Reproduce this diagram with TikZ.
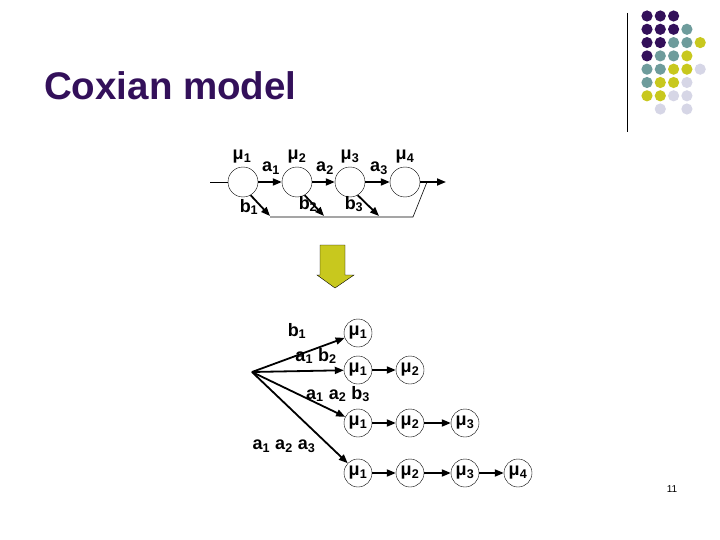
\documentclass[tikz,border=0pt]{standalone}
\usepackage{fontspec}
\setmainfont{Liberation Sans}
\usetikzlibrary{arrows.meta}
\definecolor{pp}{HTML}{33105A}
\definecolor{tl}{HTML}{6E9C9C}
\definecolor{yl}{HTML}{C8C81E}
\definecolor{lv}{HTML}{D6D6E6}
\begin{document}
\begin{tikzpicture}[x=1pt,y=-1pt,
 st/.style={circle,draw,minimum size=30pt,inner sep=0pt},
 sb/.style={circle,draw,minimum size=28pt,inner sep=0pt,font=\bfseries\fontsize{18}{18}\selectfont},
 lb/.style={font=\bfseries\fontsize{18}{18}\selectfont,inner sep=0pt},
 ar/.style={-{Triangle[length=9pt,width=7pt]},line width=1.8pt},
 ln/.style={line width=0.6pt}]
\useasboundingbox (0,0) rectangle (720,540);
\node[anchor=west,text=pp,font=\bfseries\fontsize{38.5}{38.5}\selectfont,inner sep=0pt] (title) at (44,86) {Coxian model};
\draw (627,13) -- (627,132);
\foreach \r/\list in {0/{pp,pp,pp},1/{pp,pp,pp,tl},2/{pp,pp,tl,tl,yl},3/{pp,tl,tl,yl},4/{tl,tl,yl,yl,lv},5/{tl,yl,yl,lv},6/{yl,yl,lv,lv}}{
 \foreach \c [count=\i from 0] in \list { \fill[\c] ({647+13.3*\i},{16+13.3*\r}) circle (5.6); } }
\fill[lv] (660.3,109) circle (5.6);
\fill[lv] (686.9,109) circle (5.6);
% top diagram
\node[st] (c1) at (243,182) {};
\node[st] (c2) at (297,182) {};
\node[st] (c3) at (350,182) {};
\node[st] (c4) at (405,182) {};
\foreach \i/\x in {1/242,2/297,3/350,4/405}{\node[lb] (m\i) at (\x,157) {μ\textsubscript{\i}};}
\node[lb] (la1) at (271,168) {a\textsubscript{1}};
\node[lb] (la2) at (325,168) {a\textsubscript{2}};
\node[lb] (la3) at (379,168) {a\textsubscript{3}};
\node[lb] (lb1) at (249,207) {b\textsubscript{1}};
\node[lb] (lb2) at (308,204) {b\textsubscript{2}};
\node[lb] (lb3) at (354,204) {b\textsubscript{3}};
\coordinate (in) at (210,182);
\coordinate (out) at (446,182);
\coordinate (j) at (427,182);
\coordinate (bl) at (270,217);
\coordinate (br) at (413,217);
\draw[ln] (in) -- (c1);
\draw[ar] (c1) -- (c2);
\draw[ar] (c2) -- (c3);
\draw[ar] (c3) -- (c4);
\draw[ar] (c4) -- (out);
\draw[ln] (bl) -- (br) -- (j);
\coordinate (e1) at (270,216);
\coordinate (e2) at (324,216);
\coordinate (e3) at (379,216);
\draw[ar] (c1.-60) -- (e1);
\draw[ar] (c2.-60) -- (e2);
\draw[ar] (c3.-60) -- (e3);
% arrow
\draw[fill=yl] (320,245) -- (345,245) -- (345,275) -- (354,275) -- (335,288) -- (317,275) -- (320,275) -- cycle;
% bottom
\coordinate (o) at (252,372);
\node[sb] (r11) at (358,333) {μ\textsubscript{1}};
\node[sb] (r21) at (358,370) {μ\textsubscript{1}};
\node[sb] (r22) at (410,370) {μ\textsubscript{2}};
\node[sb] (r31) at (358,423) {μ\textsubscript{1}};
\node[sb] (r32) at (410,423) {μ\textsubscript{2}};
\node[sb] (r33) at (465,423) {μ\textsubscript{3}};
\node[sb] (r41) at (358,473) {μ\textsubscript{1}};
\node[sb] (r42) at (410,473) {μ\textsubscript{2}};
\node[sb] (r43) at (465,473) {μ\textsubscript{3}};
\node[sb] (r44) at (518,473) {μ\textsubscript{4}};
\draw[ar] (o) -- (r11);
\draw[ar] (o) -- (r21);
\draw[ar] (o) -- (r31);
\draw[ar] (o) -- (r41);
\draw[ar] (r21) -- (r22);
\draw[ar] (r31) -- (r32);
\draw[ar] (r32) -- (r33);
\draw[ar] (r41) -- (r42);
\draw[ar] (r42) -- (r43);
\draw[ar] (r43) -- (r44);
\node[lb] (t1) at (297,331) {b\textsubscript{1}};
\node[lb] (t2) at (316,356) {a\textsubscript{1} b\textsubscript{2}};
\node[lb] (t3) at (338,394) {a\textsubscript{1} a\textsubscript{2} b\textsubscript{3}};
\node[lb] (t4) at (284,446) {a\textsubscript{1} a\textsubscript{2} a\textsubscript{3}};
\node[font=\fontsize{10}{10}\selectfont,inner sep=0pt] (pg) at (672,489) {11};
\end{tikzpicture}
\end{document}
